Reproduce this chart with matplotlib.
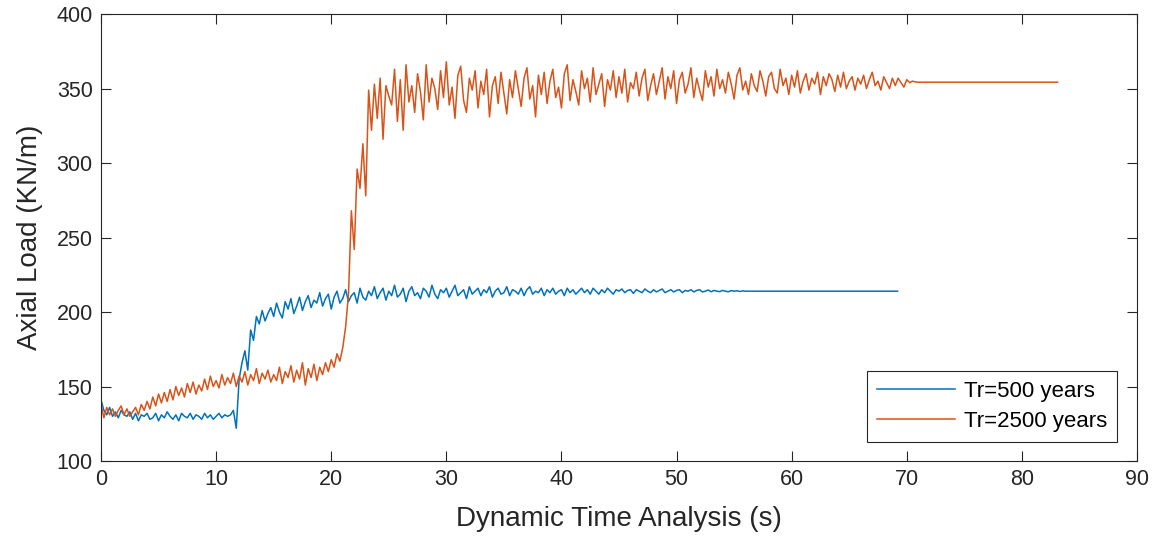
import numpy as np
import matplotlib.pyplot as plt

plt.rcParams['font.family'] = ['Liberation Sans', 'DejaVu Sans']

# axial load, Tr=500 years, sampled every 0.25 s up to 56 s, then held
load_500 = [
    141, 134, 131, 136, 130, 133, 129, 134, 131, 130, 133, 128,
    132, 127, 131, 130, 132, 128, 129, 132, 127, 131, 129, 133,
    130, 128, 131, 127, 132, 130, 129, 132, 128, 131, 130, 128,
    132, 129, 131, 128, 130, 132, 129, 131, 130, 131, 134, 122,
    155, 166, 174, 161, 188, 181, 197, 192, 201, 194, 199, 203,
    197, 206, 200, 196, 207, 202, 209, 199, 204, 210, 201, 207,
    211, 203, 208, 206, 213, 204, 209, 212, 202, 210, 214, 206,
    209, 215, 207, 211, 213, 206, 216, 210, 208, 214, 211, 217,
    209, 213, 216, 208, 214, 211, 218, 210, 212, 216, 207, 214,
    217, 211, 213, 209, 216, 214, 210, 218, 212, 209, 215, 213,
    216, 210, 214, 218, 211, 213, 215, 209, 217, 212, 214, 216,
    211, 215, 213, 217, 210, 214, 216, 212, 213, 217, 211, 215,
    214, 212, 216, 211, 215, 217, 212, 214, 213, 216, 211, 215,
    213, 216, 212, 214, 215, 211, 216, 213, 215, 212, 214, 216,
    213, 215, 212, 216, 214, 212, 215, 213, 216, 214, 212, 215,
    214, 215.5, 213, 214.5, 215, 212.5, 215, 214, 213, 215.5, 214, 213,
    215, 213.5, 214.5, 215.5, 213, 214, 215, 213.5, 214.5, 215, 213, 214.5,
    214, 215, 213.5, 214.5, 215, 213.5, 214, 214.8, 213.6, 214.5, 214, 213.7,
    214.5, 214, 213.6, 214.4, 214, 214.3, 213.8, 214.2, 214,
]
end_500 = 69.2

# axial load, Tr=2500 years, sampled every 0.25 s up to 71 s, then held
load_2500 = [
    138, 129, 136, 131, 135, 130, 134, 137, 131, 135, 130, 133,
    136, 131, 138, 134, 140, 135, 143, 137, 145, 139, 146, 140,
    148, 141, 150, 144, 149, 143, 152, 146, 153, 145, 151, 147,
    155, 148, 157, 150, 154, 149, 158, 151, 156, 152, 159, 150,
    157, 153, 160, 151, 158, 154, 162, 152, 159, 155, 161, 153,
    158, 154, 163, 152, 160, 156, 164, 153, 161, 155, 166, 151,
    162, 156, 165, 154, 163, 158, 166, 160, 168, 163, 172, 167,
    176, 190, 212, 268, 242, 296, 283, 313, 278, 349, 322, 353,
    330, 357, 316, 352, 345, 339, 363, 328, 356, 322, 366, 341,
    352, 334, 360, 348, 329, 366, 341, 357, 350, 336, 362, 344,
    368, 339, 351, 330, 359, 365, 342, 334, 357, 349, 362, 337,
    355, 346, 363, 331, 352, 358, 340, 361, 347, 333, 356, 344,
    362, 350, 338, 357, 364, 343, 352, 331, 359, 346, 361, 340,
    355, 363, 344, 351, 337, 360, 366, 342, 356, 348, 339, 362,
    350, 357, 341, 364, 346, 353, 360, 338, 356, 349, 362, 344,
    358, 347, 363, 341, 354, 350, 361, 345, 357, 363, 342, 352,
    360, 346, 355, 364, 343, 358, 350, 362, 340, 356, 361, 347,
    353, 364, 344, 357, 349, 342, 362, 351, 358, 345, 363, 350,
    356, 347, 361, 353, 343, 359, 364, 349, 355, 346, 360, 352,
    348, 362, 355, 345, 358, 361, 350, 347, 363, 352, 357, 346,
    359, 351, 362, 347, 355, 360, 349, 357, 353, 361, 346, 358,
    352, 360, 356, 348, 359, 351, 361, 350, 355, 358, 349, 357,
    353, 359, 350, 356, 361, 352, 355, 349, 358, 354, 350, 357,
    352, 357, 354, 351, 356, 354, 355, 354.5, 354.3,
]
end_2500 = 83.1

dt = 0.25
t_500 = np.append(np.arange(len(load_500)) * dt, end_500)
y_500 = np.append(load_500, load_500[-1])
t_2500 = np.append(np.arange(len(load_2500)) * dt, end_2500)
y_2500 = np.append(load_2500, load_2500[-1])

fig = plt.figure(figsize=(11.57, 5.43), dpi=100)
ax = fig.add_axes([0.0873, 0.151, 0.8954, 0.823])

ax.plot(t_500, y_500, color='#0072BD', lw=1.1, label='Tr=500 years')
ax.plot(t_2500, y_2500, color='#D95319', lw=1.1, label='Tr=2500 years')

ax.set_xlim(0, 90)
ax.set_ylim(100, 400)
ax.set_xticks(range(0, 91, 10))
ax.set_yticks(range(100, 401, 50))
ax.tick_params(direction='in', length=7, width=0.8, top=True, right=True,
               labelsize=15.5, colors='#262626', pad=6)
for s in ax.spines.values():
    s.set_color('#262626')
    s.set_linewidth(0.8)

ax.set_xlabel('Dynamic Time Analysis (s)', fontsize=20, color='#262626', labelpad=11)
ax.set_ylabel('Axial Load (KN/m)', fontsize=20, color='#262626', labelpad=10)

leg = ax.legend(loc='lower right', fontsize=16, handlelength=3.5,
                fancybox=False, edgecolor='#262626', framealpha=1,
                borderpad=0.45, labelspacing=0.4, handletextpad=0.4,
                borderaxespad=0, bbox_to_anchor=(0.9807, 0.0425))
leg.get_frame().set_linewidth(0.8)

fig.savefig('out.png', dpi=100)
